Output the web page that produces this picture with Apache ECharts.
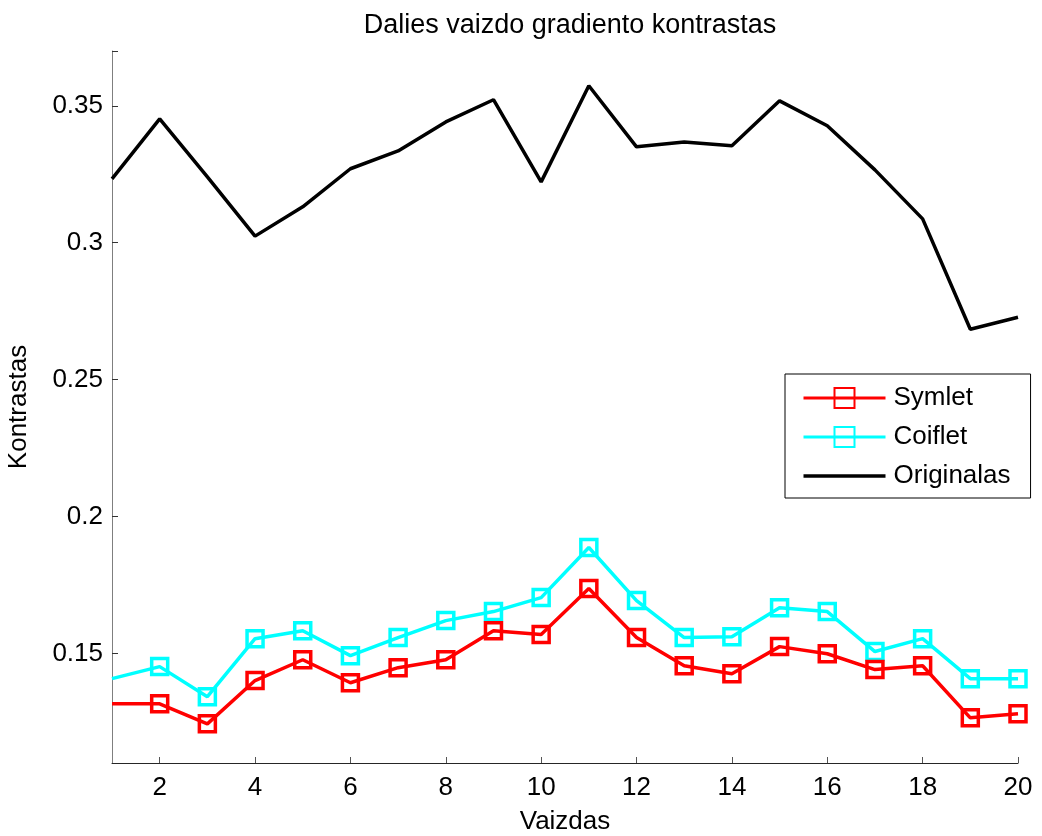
<!DOCTYPE html>
<html>
<head>
<meta charset="utf-8">
<script src="https://cdn.jsdelivr.net/npm/echarts@6/dist/echarts.min.js"></script>
<style>
  html, body { margin: 0; padding: 0; background: #fff; }
  #chart { width: 1042px; height: 836px; }
</style>
</head>
<body>
<div id="chart"></div>
<script>
// Image index (Vaizdas) 1..20
const images = [1, 2, 3, 4, 5, 6, 7, 8, 9, 10, 11, 12, 13, 14, 15, 16, 17, 18, 19, 20];

// Gradient contrast per image
const symlet = [0.1316, 0.1316, 0.1243, 0.1401, 0.1477, 0.1393, 0.1448, 0.1477, 0.1583, 0.1569,
                0.1737, 0.1558, 0.1455, 0.1426, 0.1525, 0.1499, 0.1441, 0.1455, 0.1265, 0.1280];
const coiflet = [0.1408, 0.1452, 0.1342, 0.1554, 0.1583, 0.1492, 0.1558, 0.1620, 0.1653, 0.1704,
                 0.1887, 0.1693, 0.1558, 0.1561, 0.1667, 0.1653, 0.1507, 0.1554, 0.1408, 0.1408];
const original = [0.3233, 0.3452, 0.3240, 0.3024, 0.3131, 0.3270, 0.3335, 0.3441, 0.3522, 0.3222,
                  0.3573, 0.3350, 0.3368, 0.3354, 0.3518, 0.3427, 0.3266, 0.3087, 0.2684, 0.2728];

// Tick positions and labels
const xTicks = [2, 4, 6, 8, 10, 12, 14, 16, 18, 20];
const yTicks = [0.15, 0.2, 0.25, 0.3, 0.35];
const yTickMarks = [0.15, 0.2, 0.25, 0.3, 0.35, 0.37];

const font = 'Liberation Sans, Arial, sans-serif';

function pairs(vals, hideFirst) {
  return vals.map((v, i) => {
    const p = { value: [images[i], v] };
    if (hideFirst && i === 0) p.symbol = 'none';
    return p;
  });
}

const chart = echarts.init(document.getElementById('chart'), null, { renderer: 'canvas' });

chart.setOption({
  backgroundColor: '#ffffff',
  animation: false,
  title: {
    text: 'Dalies vaizdo gradiento kontrastas',
    left: 565,
    textAlign: 'center',
    top: 7,
    textStyle: { fontFamily: font, fontSize: 27, fontWeight: 'normal', color: '#000' }
  },
  grid: { left: 112, right: 24, top: 51, bottom: 73, containLabel: false, outerBoundsMode: 'none' },
  xAxis: {
    type: 'value',
    min: 1,
    max: 20,
    name: 'Vaizdas',
    nameLocation: 'middle',
    nameGap: 46,
    nameTextStyle: { fontFamily: font, fontSize: 26, color: '#000' },
    axisLine: { show: true, lineStyle: { color: '#262626', width: 1 } },
    axisTick: { show: true, inside: true, length: 6, customValues: xTicks, lineStyle: { color: '#555' } },
    axisLabel: { customValues: xTicks, fontFamily: font, fontSize: 26, color: '#000', margin: 12 },
    splitLine: { show: false }
  },
  yAxis: {
    type: 'value',
    min: 0.11,
    max: 0.37,
    name: 'Kontrastas',
    nameLocation: 'middle',
    nameGap: 80,
    nameTextStyle: { fontFamily: font, fontSize: 26, color: '#000' },
    axisLine: { show: true, lineStyle: { color: '#7f7f7f', width: 1 } },
    axisTick: { show: true, inside: true, length: 6, customValues: yTickMarks, lineStyle: { color: '#333' } },
    axisLabel: { customValues: yTicks, fontFamily: font, fontSize: 26, color: '#000', margin: 9 },
    splitLine: { show: false }
  },
  legend: {
    orient: 'vertical',
    left: 785,
    top: 374,
    padding: [11, 20, 9, 17],
    itemGap: 13,
    itemWidth: 82,
    itemHeight: 25,
    borderColor: '#000',
    borderWidth: 1,
    backgroundColor: '#fff',
    lineStyle: { width: 3 },
    textStyle: { fontFamily: font, fontSize: 26, lineHeight: 26, color: '#000', padding: [0, 0, 0, 3] },
    data: [
      { name: 'Symlet' },
      { name: 'Coiflet' },
      { name: 'Originalas', icon: 'path://M0,0L82,0L82,3.5L0,3.5Z' }
    ]
  },
  series: [
    {
      name: 'Symlet',
      type: 'line',
      data: pairs(symlet, true),
      color: '#ff0000',
      symbol: 'rect',
      symbolSize: 16,
      showAllSymbol: true,
      lineStyle: { width: 3.5, color: '#ff0000' },
      itemStyle: { color: 'rgba(0,0,0,0)', borderColor: '#ff0000', borderWidth: 3.5 },
      z: 3
    },
    {
      name: 'Coiflet',
      type: 'line',
      data: pairs(coiflet, true),
      color: '#00ffff',
      symbol: 'rect',
      symbolSize: 16,
      showAllSymbol: true,
      lineStyle: { width: 3.5, color: '#00ffff' },
      itemStyle: { color: 'rgba(0,0,0,0)', borderColor: '#00ffff', borderWidth: 3.5 },
      z: 2
    },
    {
      name: 'Originalas',
      type: 'line',
      data: pairs(original, false),
      color: '#000000',
      symbol: 'none',
      lineStyle: { width: 3.5, color: '#000000' },
      z: 4
    }
  ]
});
</script>
</body>
</html>
